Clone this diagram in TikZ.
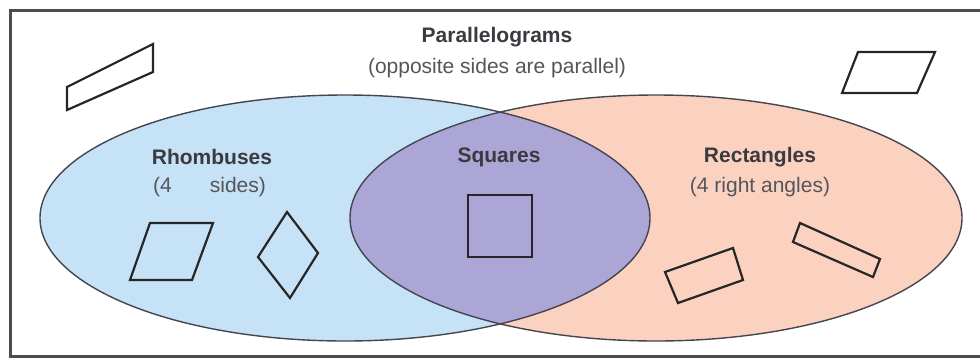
\documentclass[tikz,border=0pt]{standalone}
\usepackage{fontspec}
\setmainfont{Liberation Sans}
\definecolor{rhomb}{HTML}{C6E2F6}
\definecolor{rect}{HTML}{FBD2C0}
\definecolor{sq}{HTML}{ABA6D6}
\definecolor{edge}{HTML}{454550}
\definecolor{ttl}{HTML}{3A3A40}
\definecolor{sub}{HTML}{55555C}
\tikzset{
  shp/.style={draw=black!85, line width=2.2pt, line join=miter},
  ttlnode/.style={font=\fontsize{21}{24}\selectfont\bfseries, text=ttl, inner sep=0pt},
  subnode/.style={font=\fontsize{21}{24}\selectfont, text=sub, inner sep=0pt},
  frm/.style={draw=black!70, line width=3pt},
}
\begin{document}
\begin{tikzpicture}[x=1pt,y=-1pt]
\useasboundingbox (0,0) rectangle (980,360);
\fill[white] (0,0) rectangle (980,360);
\draw[frm] (10,10) rectangle (990,356);
% ellipses
\fill[rhomb] (345,218) ellipse [x radius=305pt, y radius=123pt];
\fill[rect] (656,218) ellipse [x radius=306pt, y radius=123pt];
\begin{scope}
  \clip (345,218) ellipse [x radius=305pt, y radius=123pt];
  \fill[sq] (656,218) ellipse [x radius=306pt, y radius=123pt];
\end{scope}
\draw[edge, line width=1.4pt] (345,218) ellipse [x radius=305pt, y radius=123pt];
\draw[edge, line width=1.4pt] (656,218) ellipse [x radius=306pt, y radius=123pt];
% texts
\node[ttlnode] (par) at (497,37) {Parallelograms};
\node[subnode] (parsub) at (497,68) {(opposite sides are parallel)};
\node[ttlnode] (rho) at (212,157) {Rhombuses};
\node[subnode, anchor=west] (rhosub) at (153,187) {(4\hspace{38pt}sides)};
\node[ttlnode] (squ) at (499,157) {Squares};
\node[ttlnode] (rec) at (760,157) {Rectangles};
\node[subnode] (recsub) at (760,187) {(4 right angles)};
% shapes
\draw[shp] (67,87) -- (153,44) -- (153,72) -- (67,110) -- cycle;
\draw[shp] (858,52) -- (935,52) -- (917,93) -- (842,93) -- cycle;
\draw[shp] (150,223) -- (213,223) -- (192,280) -- (130,280) -- cycle;
\draw[shp] (287,212) -- (318,253) -- (290,298) -- (258,257) -- cycle;
\draw[shp] (468,195) rectangle (532,257);
\draw[shp] (665,272) -- (733,248) -- (743,280) -- (678,303) -- cycle;
\draw[shp] (800,223) -- (880,259) -- (873,277) -- (793,242) -- cycle;
\end{tikzpicture}
\end{document}
